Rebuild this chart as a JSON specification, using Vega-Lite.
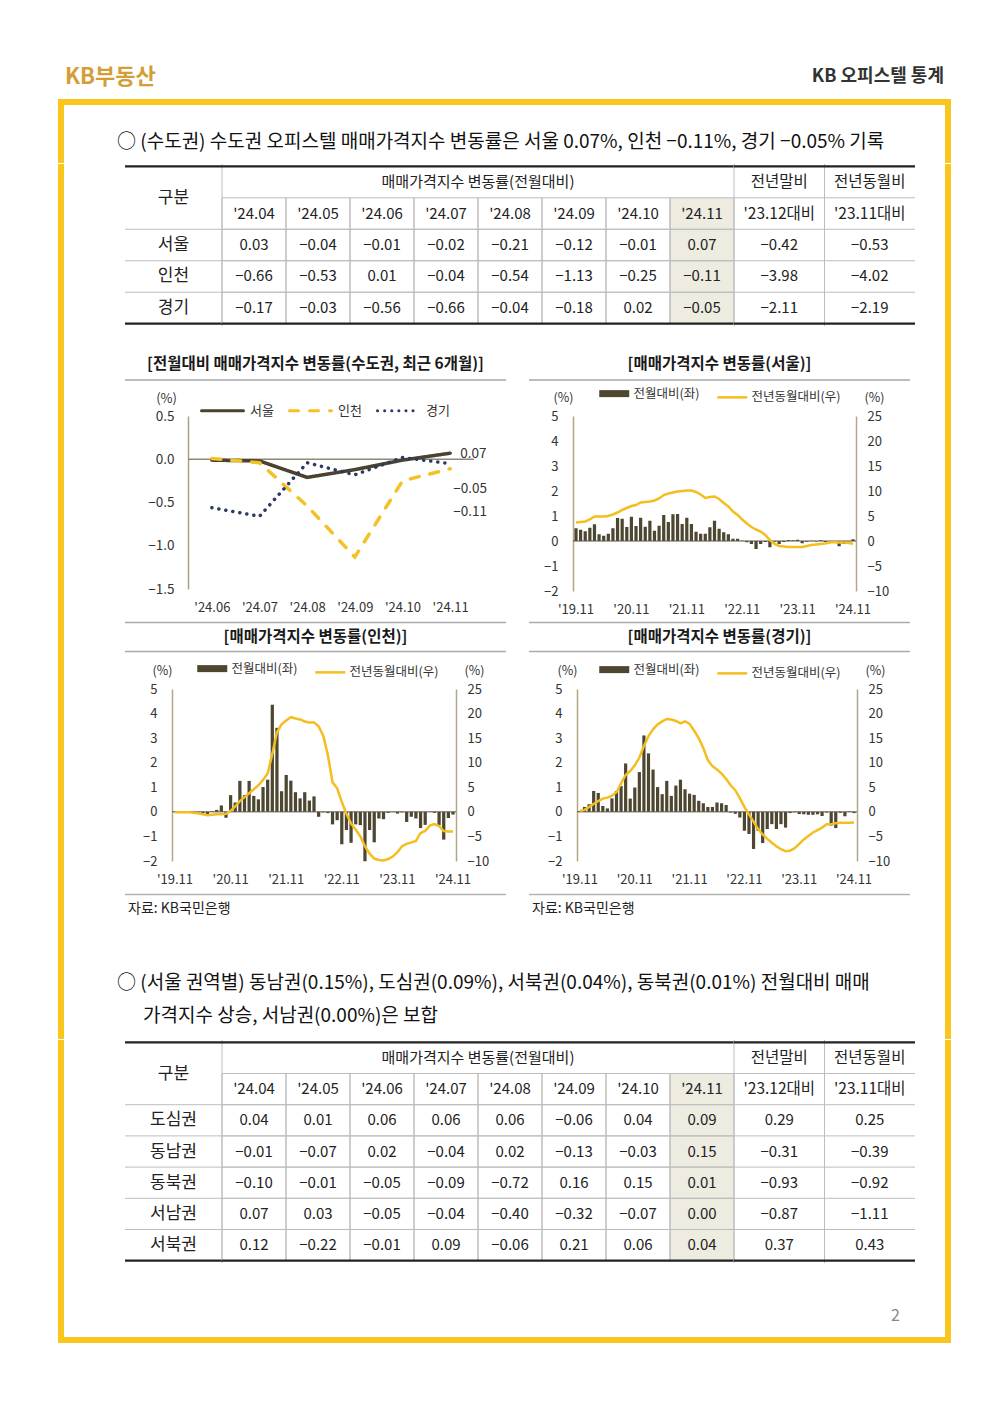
{
"$schema":"https://vega.github.io/schema/vega-lite/v6.json",
"padding":{"left":58,"top":62,"right":0,"bottom":0},
"background":"#ffffff",
"config":{"font":"Noto Sans CJK KR","view":{"stroke":null},"title":{"font":"Noto Sans CJK KR","fontWeight":"normal","color":"#222222"},"axis":{"labelFont":"Noto Sans CJK KR","titleFont":"Noto Sans CJK KR"},"legend":{"labelFont":"Noto Sans CJK KR"}},
"datasets":{
"hdr":[{"key":"brand","label":"KB부동산"},{"key":"report","label":"KB 오피스텔 통계"}],
"rows1":[{"row":"서울"},{"row":"인천"},{"row":"경기"}],
"rows2":[{"row":"도심권"},{"row":"동남권"},{"row":"동북권"},{"row":"서남권"},{"row":"서북권"}],
"hdrM":[{"col":"'24.04","row":"h2"},{"col":"'24.05","row":"h2"},{"col":"'24.06","row":"h2"},{"col":"'24.07","row":"h2"},{"col":"'24.08","row":"h2"},{"col":"'24.09","row":"h2"},{"col":"'24.10","row":"h2"},{"col":"'24.11","row":"h2"}],
"hdrC":[{"col":"전년말비","row":"h1","t":"전년말비"},{"col":"전년동월비","row":"h1","t":"전년동월비"},{"col":"전년말비","row":"h2","t":"'23.12대비"},{"col":"전년동월비","row":"h2","t":"'23.11대비"}],
"t1m":[
{"row":"서울","col":"'24.04","v":0.03},{"row":"서울","col":"'24.05","v":-0.04},{"row":"서울","col":"'24.06","v":-0.01},{"row":"서울","col":"'24.07","v":-0.02},{"row":"서울","col":"'24.08","v":-0.21},{"row":"서울","col":"'24.09","v":-0.12},{"row":"서울","col":"'24.10","v":-0.01},{"row":"서울","col":"'24.11","v":0.07},
{"row":"인천","col":"'24.04","v":-0.66},{"row":"인천","col":"'24.05","v":-0.53},{"row":"인천","col":"'24.06","v":0.01},{"row":"인천","col":"'24.07","v":-0.04},{"row":"인천","col":"'24.08","v":-0.54},{"row":"인천","col":"'24.09","v":-1.13},{"row":"인천","col":"'24.10","v":-0.25},{"row":"인천","col":"'24.11","v":-0.11},
{"row":"경기","col":"'24.04","v":-0.17},{"row":"경기","col":"'24.05","v":-0.03},{"row":"경기","col":"'24.06","v":-0.56},{"row":"경기","col":"'24.07","v":-0.66},{"row":"경기","col":"'24.08","v":-0.04},{"row":"경기","col":"'24.09","v":-0.18},{"row":"경기","col":"'24.10","v":0.02},{"row":"경기","col":"'24.11","v":-0.05}],
"t1c":[{"row":"서울","col":"전년말비","v":-0.42},{"row":"서울","col":"전년동월비","v":-0.53},{"row":"인천","col":"전년말비","v":-3.98},{"row":"인천","col":"전년동월비","v":-4.02},{"row":"경기","col":"전년말비","v":-2.11},{"row":"경기","col":"전년동월비","v":-2.19}],
"t2m":[
{"row":"도심권","col":"'24.04","v":0.04},{"row":"도심권","col":"'24.05","v":0.01},{"row":"도심권","col":"'24.06","v":0.06},{"row":"도심권","col":"'24.07","v":0.06},{"row":"도심권","col":"'24.08","v":0.06},{"row":"도심권","col":"'24.09","v":-0.06},{"row":"도심권","col":"'24.10","v":0.04},{"row":"도심권","col":"'24.11","v":0.09},
{"row":"동남권","col":"'24.04","v":-0.01},{"row":"동남권","col":"'24.05","v":-0.07},{"row":"동남권","col":"'24.06","v":0.02},{"row":"동남권","col":"'24.07","v":-0.04},{"row":"동남권","col":"'24.08","v":0.02},{"row":"동남권","col":"'24.09","v":-0.13},{"row":"동남권","col":"'24.10","v":-0.03},{"row":"동남권","col":"'24.11","v":0.15},
{"row":"동북권","col":"'24.04","v":-0.10},{"row":"동북권","col":"'24.05","v":-0.01},{"row":"동북권","col":"'24.06","v":-0.05},{"row":"동북권","col":"'24.07","v":-0.09},{"row":"동북권","col":"'24.08","v":-0.72},{"row":"동북권","col":"'24.09","v":0.16},{"row":"동북권","col":"'24.10","v":0.15},{"row":"동북권","col":"'24.11","v":0.01},
{"row":"서남권","col":"'24.04","v":0.07},{"row":"서남권","col":"'24.05","v":0.03},{"row":"서남권","col":"'24.06","v":-0.05},{"row":"서남권","col":"'24.07","v":-0.04},{"row":"서남권","col":"'24.08","v":-0.40},{"row":"서남권","col":"'24.09","v":-0.32},{"row":"서남권","col":"'24.10","v":-0.07},{"row":"서남권","col":"'24.11","v":0.00},
{"row":"서북권","col":"'24.04","v":0.12},{"row":"서북권","col":"'24.05","v":-0.22},{"row":"서북권","col":"'24.06","v":-0.01},{"row":"서북권","col":"'24.07","v":0.09},{"row":"서북권","col":"'24.08","v":-0.06},{"row":"서북권","col":"'24.09","v":0.21},{"row":"서북권","col":"'24.10","v":0.06},{"row":"서북권","col":"'24.11","v":0.04}],
"t2c":[{"row":"도심권","col":"전년말비","v":0.29},{"row":"도심권","col":"전년동월비","v":0.25},{"row":"동남권","col":"전년말비","v":-0.31},{"row":"동남권","col":"전년동월비","v":-0.39},{"row":"동북권","col":"전년말비","v":-0.93},{"row":"동북권","col":"전년동월비","v":-0.92},{"row":"서남권","col":"전년말비","v":-0.87},{"row":"서남권","col":"전년동월비","v":-1.11},{"row":"서북권","col":"전년말비","v":0.37},{"row":"서북권","col":"전년동월비","v":0.43}],
"c1":[
{"m":"'24.06","r":"서울","v":-0.01},{"m":"'24.07","r":"서울","v":-0.02},{"m":"'24.08","r":"서울","v":-0.21},{"m":"'24.09","r":"서울","v":-0.12},{"m":"'24.10","r":"서울","v":-0.01},{"m":"'24.11","r":"서울","v":0.07},
{"m":"'24.06","r":"인천","v":0.01},{"m":"'24.07","r":"인천","v":-0.04},{"m":"'24.08","r":"인천","v":-0.54},{"m":"'24.09","r":"인천","v":-1.13},{"m":"'24.10","r":"인천","v":-0.25},{"m":"'24.11","r":"인천","v":-0.11},
{"m":"'24.06","r":"경기","v":-0.56},{"m":"'24.07","r":"경기","v":-0.66},{"m":"'24.08","r":"경기","v":-0.04},{"m":"'24.09","r":"경기","v":-0.18},{"m":"'24.10","r":"경기","v":0.02},{"m":"'24.11","r":"경기","v":-0.05}],
"seoul":[
{"m":"'19.11","mom":0.51,"yoy":3.7},{"m":"'19.12","mom":0.45,"yoy":3.8},{"m":"'20.01","mom":0.39,"yoy":3.9},{"m":"'20.02","mom":0.53,"yoy":4.3},{"m":"'20.03","mom":0.67,"yoy":4.9},{"m":"'20.04","mom":0.27,"yoy":4.9},{"m":"'20.05","mom":0.21,"yoy":4.9},{"m":"'20.06","mom":0.29,"yoy":5.0},{"m":"'20.07","mom":0.51,"yoy":5.3},{"m":"'20.08","mom":0.92,"yoy":5.7},{"m":"'20.09","mom":0.89,"yoy":6.2},{"m":"'20.10","mom":0.56,"yoy":6.6},
{"m":"'20.11","mom":0.97,"yoy":7.0},{"m":"'20.12","mom":0.60,"yoy":7.2},{"m":"'21.01","mom":0.93,"yoy":7.7},{"m":"'21.02","mom":0.57,"yoy":7.8},{"m":"'21.03","mom":0.81,"yoy":7.9},{"m":"'21.04","mom":0.41,"yoy":8.1},{"m":"'21.05","mom":0.61,"yoy":8.5},{"m":"'21.06","mom":1.04,"yoy":9.2},{"m":"'21.07","mom":0.76,"yoy":9.5},{"m":"'21.08","mom":1.07,"yoy":9.7},{"m":"'21.09","mom":1.08,"yoy":9.9},{"m":"'21.10","mom":0.68,"yoy":10.0},
{"m":"'21.11","mom":0.93,"yoy":10.1},{"m":"'21.12","mom":0.68,"yoy":10.1},{"m":"'22.01","mom":0.37,"yoy":9.8},{"m":"'22.02","mom":0.29,"yoy":9.3},{"m":"'22.03","mom":0.29,"yoy":8.6},{"m":"'22.04","mom":0.55,"yoy":8.8},{"m":"'22.05","mom":0.81,"yoy":8.9},{"m":"'22.06","mom":0.49,"yoy":8.4},{"m":"'22.07","mom":0.35,"yoy":7.6},{"m":"'22.08","mom":0.27,"yoy":6.9},{"m":"'22.09","mom":0.09,"yoy":5.9},{"m":"'22.10","mom":0.09,"yoy":5.2},
{"m":"'22.11","mom":0.01,"yoy":4.3},{"m":"'22.12","mom":-0.05,"yoy":3.5},{"m":"'23.01","mom":-0.12,"yoy":2.8},{"m":"'23.02","mom":-0.32,"yoy":2.3},{"m":"'23.03","mom":-0.12,"yoy":1.9},{"m":"'23.04","mom":-0.04,"yoy":1.2},{"m":"'23.05","mom":-0.25,"yoy":0.2},{"m":"'23.06","mom":-0.03,"yoy":-0.6},{"m":"'23.07","mom":-0.12,"yoy":-1.0},{"m":"'23.08","mom":-0.04,"yoy":-1.1},{"m":"'23.09","mom":0.04,"yoy":-1.2},{"m":"'23.10","mom":0.03,"yoy":-1.2},
{"m":"'23.11","mom":0.05,"yoy":-1.2},{"m":"'23.12","mom":-0.09,"yoy":-1.2},{"m":"'24.01","mom":-0.03,"yoy":-1.0},{"m":"'24.02","mom":0.01,"yoy":-0.8},{"m":"'24.03","mom":-0.02,"yoy":-0.7},{"m":"'24.04","mom":0.03,"yoy":-0.6},{"m":"'24.05","mom":-0.04,"yoy":-0.5},{"m":"'24.06","mom":-0.01,"yoy":-0.3},{"m":"'24.07","mom":-0.02,"yoy":-0.2},{"m":"'24.08","mom":-0.21,"yoy":-0.3},{"m":"'24.09","mom":-0.12,"yoy":-0.3},{"m":"'24.10","mom":-0.01,"yoy":-0.4},{"m":"'24.11","mom":0.07,"yoy":-0.53}],
"incheon":[
{"m":"'19.11","mom":0.01,"yoy":-0.1},{"m":"'19.12","mom":0.0,"yoy":-0.1},{"m":"'20.01","mom":0.02,"yoy":-0.1},{"m":"'20.02","mom":0.0,"yoy":-0.1},{"m":"'20.03","mom":-0.02,"yoy":-0.2},{"m":"'20.04","mom":-0.03,"yoy":-0.3},{"m":"'20.05","mom":-0.06,"yoy":-0.5},{"m":"'20.06","mom":-0.12,"yoy":-0.7},{"m":"'20.07","mom":0.02,"yoy":-0.6},{"m":"'20.08","mom":0.08,"yoy":-0.5},{"m":"'20.09","mom":0.26,"yoy":-0.5},{"m":"'20.10","mom":-0.24,"yoy":-0.4},
{"m":"'20.11","mom":0.68,"yoy":0.2},{"m":"'20.12","mom":0.38,"yoy":1.1},{"m":"'21.01","mom":1.26,"yoy":2.2},{"m":"'21.02","mom":0.68,"yoy":3.0},{"m":"'21.03","mom":1.26,"yoy":3.8},{"m":"'21.04","mom":0.65,"yoy":4.6},{"m":"'21.05","mom":0.51,"yoy":5.4},{"m":"'21.06","mom":1.01,"yoy":6.5},{"m":"'21.07","mom":1.31,"yoy":7.8},{"m":"'21.08","mom":4.36,"yoy":11.8},{"m":"'21.09","mom":3.42,"yoy":16.2},{"m":"'21.10","mom":0.84,"yoy":17.8},
{"m":"'21.11","mom":1.5,"yoy":18.6},{"m":"'21.12","mom":1.27,"yoy":19.3},{"m":"'22.01","mom":0.8,"yoy":19.0},{"m":"'22.02","mom":0.55,"yoy":18.8},{"m":"'22.03","mom":0.8,"yoy":18.4},{"m":"'22.04","mom":0.46,"yoy":18.2},{"m":"'22.05","mom":0.63,"yoy":18.2},{"m":"'22.06","mom":-0.2,"yoy":17.4},{"m":"'22.07","mom":-0.02,"yoy":15.5},{"m":"'22.08","mom":-0.05,"yoy":11.5},{"m":"'22.09","mom":-0.51,"yoy":6.0},{"m":"'22.10","mom":-0.34,"yoy":4.8},
{"m":"'22.11","mom":-1.32,"yoy":2.0},{"m":"'22.12","mom":-0.74,"yoy":-0.4},{"m":"'23.01","mom":-1.26,"yoy":-2.4},{"m":"'23.02","mom":-0.51,"yoy":-3.6},{"m":"'23.03","mom":-0.54,"yoy":-5.0},{"m":"'23.04","mom":-2.01,"yoy":-7.0},{"m":"'23.05","mom":-0.74,"yoy":-8.5},{"m":"'23.06","mom":-1.24,"yoy":-9.5},{"m":"'23.07","mom":-0.27,"yoy":-9.8},{"m":"'23.08","mom":-0.3,"yoy":-9.9},{"m":"'23.09","mom":-0.04,"yoy":-9.6},{"m":"'23.10","mom":-0.01,"yoy":-9.1},
{"m":"'23.11","mom":-0.07,"yoy":-8.2},{"m":"'23.12","mom":-0.02,"yoy":-7.0},{"m":"'24.01","mom":-0.41,"yoy":-6.5},{"m":"'24.02","mom":-0.2,"yoy":-6.2},{"m":"'24.03","mom":-0.27,"yoy":-5.9},{"m":"'24.04","mom":-0.66,"yoy":-4.3},{"m":"'24.05","mom":-0.53,"yoy":-3.9},{"m":"'24.06","mom":0.01,"yoy":-2.8},{"m":"'24.07","mom":-0.04,"yoy":-2.5},{"m":"'24.08","mom":-0.54,"yoy":-2.9},{"m":"'24.09","mom":-1.13,"yoy":-3.9},{"m":"'24.10","mom":-0.25,"yoy":-4.0},{"m":"'24.11","mom":-0.11,"yoy":-4.02}],
"gyeonggi":[
{"m":"'19.11","mom":0.03,"yoy":0.2},{"m":"'19.12","mom":0.2,"yoy":0.4},{"m":"'20.01","mom":0.31,"yoy":1.0},{"m":"'20.02","mom":0.85,"yoy":1.6},{"m":"'20.03","mom":0.77,"yoy":2.2},{"m":"'20.04","mom":0.24,"yoy":2.7},{"m":"'20.05","mom":0.14,"yoy":2.9},{"m":"'20.06","mom":0.55,"yoy":3.3},{"m":"'20.07","mom":0.85,"yoy":4.0},{"m":"'20.08","mom":1.05,"yoy":5.8},{"m":"'20.09","mom":1.97,"yoy":7.5},{"m":"'20.10","mom":0.54,"yoy":8.3},
{"m":"'20.11","mom":0.99,"yoy":9.5},{"m":"'20.12","mom":1.62,"yoy":11.0},{"m":"'21.01","mom":3.11,"yoy":13.4},{"m":"'21.02","mom":2.38,"yoy":15.4},{"m":"'21.03","mom":1.72,"yoy":16.8},{"m":"'21.04","mom":1.01,"yoy":17.8},{"m":"'21.05","mom":0.72,"yoy":18.4},{"m":"'21.06","mom":1.26,"yoy":18.9},{"m":"'21.07","mom":0.65,"yoy":18.8},{"m":"'21.08","mom":1.07,"yoy":18.5},{"m":"'21.09","mom":1.31,"yoy":18.0},{"m":"'21.10","mom":0.92,"yoy":18.4},
{"m":"'21.11","mom":0.74,"yoy":17.9},{"m":"'21.12","mom":0.69,"yoy":16.5},{"m":"'22.01","mom":0.45,"yoy":15.0},{"m":"'22.02","mom":0.35,"yoy":13.0},{"m":"'22.03","mom":0.2,"yoy":10.5},{"m":"'22.04","mom":0.2,"yoy":9.3},{"m":"'22.05","mom":0.38,"yoy":8.6},{"m":"'22.06","mom":0.35,"yoy":7.8},{"m":"'22.07","mom":0.28,"yoy":6.7},{"m":"'22.08","mom":-0.03,"yoy":5.4},{"m":"'22.09","mom":-0.08,"yoy":4.4},{"m":"'22.10","mom":-0.23,"yoy":2.8},
{"m":"'22.11","mom":-0.77,"yoy":1.0},{"m":"'22.12","mom":-0.9,"yoy":-0.5},{"m":"'23.01","mom":-1.51,"yoy":-2.0},{"m":"'23.02","mom":-0.77,"yoy":-3.5},{"m":"'23.03","mom":-1.27,"yoy":-4.6},{"m":"'23.04","mom":-0.7,"yoy":-5.5},{"m":"'23.05","mom":-0.5,"yoy":-6.3},{"m":"'23.06","mom":-0.7,"yoy":-7.0},{"m":"'23.07","mom":-0.5,"yoy":-7.6},{"m":"'23.08","mom":-0.64,"yoy":-8.0},{"m":"'23.09","mom":-0.05,"yoy":-7.9},{"m":"'23.10","mom":-0.02,"yoy":-7.4},
{"m":"'23.11","mom":-0.09,"yoy":-6.5},{"m":"'23.12","mom":-0.1,"yoy":-5.6},{"m":"'24.01","mom":-0.12,"yoy":-4.9},{"m":"'24.02","mom":-0.12,"yoy":-4.2},{"m":"'24.03","mom":-0.1,"yoy":-3.7},{"m":"'24.04","mom":-0.17,"yoy":-3.2},{"m":"'24.05","mom":-0.03,"yoy":-2.5},{"m":"'24.06","mom":-0.56,"yoy":-2.5},{"m":"'24.07","mom":-0.66,"yoy":-2.3},{"m":"'24.08","mom":-0.04,"yoy":-2.2},{"m":"'24.09","mom":-0.18,"yoy":-2.2},{"m":"'24.10","mom":0.02,"yoy":-2.2},{"m":"'24.11","mom":-0.05,"yoy":-2.19}]
},
"spacing":0,
"resolve":{"scale":{"color":"independent","strokeDash":"independent"},"legend":{"color":"independent","strokeDash":"independent"}},
"vconcat":[
{"width":893,"height":30,"data":{"name":"hdr"},"layer":[
 {"transform":[{"filter":"datum.key === 'brand'"}],"mark":{"type":"text","align":"left","fontSize":22,"fontWeight":"bold","color":"#D39E35"},"encoding":{"x":{"field":"key","type":"nominal","scale":{"type":"point","domain":["brand","report"],"padding":0.008},"axis":null},"text":{"field":"label"}}},
 {"transform":[{"filter":"datum.key === 'report'"}],"mark":{"type":"text","align":"right","fontSize":18,"fontWeight":"bold","color":"#333333"},"encoding":{"x":{"field":"key","type":"nominal","scale":{"type":"point","domain":["brand","report"],"padding":0.008},"axis":null},"text":{"field":"label"}}}
]},
{"width":1,"height":7,"data":{"values":[{}]},"mark":{"type":"text","text":"","fontSize":0}},
{"width":893,"height":6,"view":{"fill":"#F8C61C","stroke":null},"data":{"values":[{}]},"mark":{"type":"text","text":"","fontSize":0}},

{"bounds":"flush","spacing":0,"hconcat":[
 {"width":6,"height":58,"view":{"fill":"#F8C61C","stroke":null},"data":{"values":[{}]},"mark":{"type":"text","text":"","fontSize":0}},
 {"width":61,"height":1,"data":{"values":[{}]},"mark":{"type":"text","text":"","fontSize":0}},
 {"width":790,"height":58,"data":{"values":[{}]},"mark":{"type":"text","text":"","fontSize":0},"title":{"text":"○ (수도권) 수도권 오피스텔 매매가격지수 변동률은 서울 0.07%, 인천 −0.11%, 경기 −0.05% 기록","anchor":"start","frame":"group","fontSize":19,"fontWeight":"normal","color":"#111111","offset":-47,"dx":-8}},
 {"width":30,"height":1,"data":{"values":[{}]},"mark":{"type":"text","text":"","fontSize":0}},
 {"width":6,"height":58,"view":{"fill":"#F8C61C","stroke":null},"data":{"values":[{}]},"mark":{"type":"text","text":"","fontSize":0}}
]},

{"bounds":"flush","spacing":0,"hconcat":[
 {"width":6,"height":187,"view":{"fill":"#F8C61C","stroke":null},"data":{"values":[{}]},"mark":{"type":"text","text":"","fontSize":0}},
 {"width":61,"height":1,"data":{"values":[{}]},"mark":{"type":"text","text":"","fontSize":0}},
 {"width":97,"height":162,"layer":[
  {"data":{"name":"rows1"},"mark":{"type":"rule","color":"#BDBDBD","strokeWidth":1},"encoding":{"y":{"field":"row","type":"nominal","bandPosition":0,"scale":{"type":"band","domain":["h1","h2","서울","인천","경기"],"paddingInner":0,"paddingOuter":0.0726},"axis":null}}},
  {"data":{"values":[{}]},"mark":{"type":"rule","color":"#BDBDBD","strokeWidth":1},"encoding":{"x":{"value":"width"}}},
  {"data":{"values":[{"row":"h2","label":"구분"}]},"mark":{"type":"text","fontSize":17,"color":"#222222"},"encoding":{"y":{"field":"row","type":"nominal","bandPosition":0,"scale":{"type":"band","domain":["h1","h2","서울","인천","경기"],"paddingInner":0,"paddingOuter":0.0726},"axis":null},"text":{"field":"label"}}},
  {"data":{"name":"rows1"},"mark":{"type":"text","fontSize":17,"color":"#222222"},"encoding":{"y":{"field":"row","type":"nominal","scale":{"type":"band","domain":["h1","h2","서울","인천","경기"],"paddingInner":0,"paddingOuter":0.0726},"axis":null},"text":{"field":"row"}}},
  {"data":{"values":[{"row":"h1"}]},"mark":{"type":"rule","color":"#222222","strokeWidth":2.2},"encoding":{"y":{"field":"row","type":"nominal","bandPosition":0,"scale":{"type":"band","domain":["h1","h2","서울","인천","경기"],"paddingInner":0,"paddingOuter":0.0726},"axis":null}}},
  {"data":{"values":[{"row":"경기"}]},"mark":{"type":"rule","color":"#222222","strokeWidth":2.2},"encoding":{"y":{"field":"row","type":"nominal","bandPosition":1,"scale":{"type":"band","domain":["h1","h2","서울","인천","경기"],"paddingInner":0,"paddingOuter":0.0726},"axis":null}}}
 ]},
 {"width":512,"height":162,"layer":[
  {"data":{"name":"t1m"},"transform":[{"filter":"datum.col === \"'24.11\""}],"mark":{"type":"rect","color":"#EEEBE1"},"encoding":{"x":{"field":"col","type":"nominal","scale":{"type":"band","domain":["'24.04","'24.05","'24.06","'24.07","'24.08","'24.09","'24.10","'24.11"],"paddingInner":0,"paddingOuter":0},"axis":null},"y":{"field":"row","type":"nominal","scale":{"type":"band","domain":["h1","h2","서울","인천","경기"],"paddingInner":0,"paddingOuter":0.0726},"axis":null}}},
  {"data":{"name":"hdrM"},"transform":[{"filter":"datum.col === \"'24.11\""}],"mark":{"type":"rect","color":"#EEEBE1"},"encoding":{"x":{"field":"col","type":"nominal","scale":{"type":"band","domain":["'24.04","'24.05","'24.06","'24.07","'24.08","'24.09","'24.10","'24.11"],"paddingInner":0,"paddingOuter":0},"axis":null},"y":{"field":"row","type":"nominal","scale":{"type":"band","domain":["h1","h2","서울","인천","경기"],"paddingInner":0,"paddingOuter":0.0726},"axis":null}}},
  {"data":{"name":"t1m"},"mark":{"type":"rect","filled":false,"color":"#BDBDBD","strokeWidth":1},"encoding":{"x":{"field":"col","type":"nominal","scale":{"type":"band","domain":["'24.04","'24.05","'24.06","'24.07","'24.08","'24.09","'24.10","'24.11"],"paddingInner":0,"paddingOuter":0},"axis":null},"y":{"field":"row","type":"nominal","scale":{"type":"band","domain":["h1","h2","서울","인천","경기"],"paddingInner":0,"paddingOuter":0.0726},"axis":null}}},
  {"data":{"name":"hdrM"},"mark":{"type":"rect","filled":false,"color":"#BDBDBD","strokeWidth":1},"encoding":{"x":{"field":"col","type":"nominal","scale":{"type":"band","domain":["'24.04","'24.05","'24.06","'24.07","'24.08","'24.09","'24.10","'24.11"],"paddingInner":0,"paddingOuter":0},"axis":null},"y":{"field":"row","type":"nominal","scale":{"type":"band","domain":["h1","h2","서울","인천","경기"],"paddingInner":0,"paddingOuter":0.0726},"axis":null}}},
  {"data":{"values":[{"row":"h1","label":"매매가격지수 변동률(전월대비)"}]},"mark":{"type":"text","fontSize":15,"color":"#222222"},"encoding":{"y":{"field":"row","type":"nominal","scale":{"type":"band","domain":["h1","h2","서울","인천","경기"],"paddingInner":0,"paddingOuter":0.0726},"axis":null},"text":{"field":"label"}}},
  {"data":{"name":"hdrM"},"mark":{"type":"text","fontSize":15,"color":"#222222"},"encoding":{"x":{"field":"col","type":"nominal","scale":{"type":"band","domain":["'24.04","'24.05","'24.06","'24.07","'24.08","'24.09","'24.10","'24.11"],"paddingInner":0,"paddingOuter":0},"axis":null},"y":{"field":"row","type":"nominal","scale":{"type":"band","domain":["h1","h2","서울","인천","경기"],"paddingInner":0,"paddingOuter":0.0726},"axis":null},"text":{"field":"col"}}},
  {"data":{"name":"t1m"},"mark":{"type":"text","fontSize":15,"color":"#222222"},"encoding":{"x":{"field":"col","type":"nominal","scale":{"type":"band","domain":["'24.04","'24.05","'24.06","'24.07","'24.08","'24.09","'24.10","'24.11"],"paddingInner":0,"paddingOuter":0},"axis":null},"y":{"field":"row","type":"nominal","scale":{"type":"band","domain":["h1","h2","서울","인천","경기"],"paddingInner":0,"paddingOuter":0.0726},"axis":null},"text":{"field":"v","type":"quantitative","format":".2f"}}},
  {"data":{"values":[{"row":"h1"}]},"mark":{"type":"rule","color":"#222222","strokeWidth":2.2},"encoding":{"y":{"field":"row","type":"nominal","bandPosition":0,"scale":{"type":"band","domain":["h1","h2","서울","인천","경기"],"paddingInner":0,"paddingOuter":0.0726},"axis":null}}},
  {"data":{"values":[{"row":"경기"}]},"mark":{"type":"rule","color":"#222222","strokeWidth":2.2},"encoding":{"y":{"field":"row","type":"nominal","bandPosition":1,"scale":{"type":"band","domain":["h1","h2","서울","인천","경기"],"paddingInner":0,"paddingOuter":0.0726},"axis":null}}}
 ]},
 {"width":181,"height":162,"layer":[
  {"data":{"values":[{"col":"전년말비"},{"col":"전년동월비"}]},"mark":{"type":"rule","color":"#BDBDBD","strokeWidth":1},"encoding":{"x":{"field":"col","type":"nominal","bandPosition":0,"scale":{"type":"band","domain":["전년말비","전년동월비"],"paddingInner":0,"paddingOuter":0},"axis":null}}},
  {"data":{"values":[{"row":"h2"},{"row":"서울"},{"row":"인천"},{"row":"경기"}]},"mark":{"type":"rule","color":"#BDBDBD","strokeWidth":1},"encoding":{"y":{"field":"row","type":"nominal","bandPosition":0,"scale":{"type":"band","domain":["h1","h2","서울","인천","경기"],"paddingInner":0,"paddingOuter":0.0726},"axis":null}}},
  {"data":{"name":"hdrC"},"mark":{"type":"text","fontSize":15.5,"color":"#222222"},"encoding":{"x":{"field":"col","type":"nominal","scale":{"type":"band","domain":["전년말비","전년동월비"],"paddingInner":0,"paddingOuter":0},"axis":null},"y":{"field":"row","type":"nominal","scale":{"type":"band","domain":["h1","h2","서울","인천","경기"],"paddingInner":0,"paddingOuter":0.0726},"axis":null},"text":{"field":"t"}}},
  {"data":{"name":"t1c"},"mark":{"type":"text","fontSize":15,"color":"#222222"},"encoding":{"x":{"field":"col","type":"nominal","scale":{"type":"band","domain":["전년말비","전년동월비"],"paddingInner":0,"paddingOuter":0},"axis":null},"y":{"field":"row","type":"nominal","scale":{"type":"band","domain":["h1","h2","서울","인천","경기"],"paddingInner":0,"paddingOuter":0.0726},"axis":null},"text":{"field":"v","type":"quantitative","format":".2f"}}},
  {"data":{"values":[{"row":"h1"}]},"mark":{"type":"rule","color":"#222222","strokeWidth":2.2},"encoding":{"y":{"field":"row","type":"nominal","bandPosition":0,"scale":{"type":"band","domain":["h1","h2","서울","인천","경기"],"paddingInner":0,"paddingOuter":0.0726},"axis":null}}},
  {"data":{"values":[{"row":"경기"}]},"mark":{"type":"rule","color":"#222222","strokeWidth":2.2},"encoding":{"y":{"field":"row","type":"nominal","bandPosition":1,"scale":{"type":"band","domain":["h1","h2","서울","인천","경기"],"paddingInner":0,"paddingOuter":0.0726},"axis":null}}}
 ]},
 {"width":30,"height":1,"data":{"values":[{}]},"mark":{"type":"text","text":"","fontSize":0}},
 {"width":6,"height":187,"view":{"fill":"#F8C61C","stroke":null},"data":{"values":[{}]},"mark":{"type":"text","text":"","fontSize":0}}
]},

{"bounds":"flush","spacing":0,"hconcat":[
 {"width":6,"height":31,"view":{"fill":"#F8C61C","stroke":null},"data":{"values":[{}]},"mark":{"type":"text","text":"","fontSize":0}},
 {"width":61,"height":1,"data":{"values":[{}]},"mark":{"type":"text","text":"","fontSize":0}},
 {"width":381,"height":29,"data":{"values":[{"label":"[전월대비 매매가격지수 변동률(수도권, 최근 6개월)]"}]},"layer":[
  {"mark":{"type":"text","fontSize":15.5,"fontWeight":"bold","color":"#1A1A1A","dy":-2},"encoding":{"text":{"field":"label"}}},
  {"mark":{"type":"rule","color":"#A6A6A6","strokeWidth":1.5},"encoding":{"y":{"value":"height"}}}
 ]},
 {"width":23,"height":1,"data":{"values":[{}]},"mark":{"type":"text","text":"","fontSize":0}},
 {"width":381,"height":29,"data":{"values":[{"label":"[매매가격지수 변동률(서울)]"}]},"layer":[
  {"mark":{"type":"text","fontSize":15.5,"fontWeight":"bold","color":"#1A1A1A","dy":-2},"encoding":{"text":{"field":"label"}}},
  {"mark":{"type":"rule","color":"#A6A6A6","strokeWidth":1.5},"encoding":{"y":{"value":"height"}}}
 ]},
 {"width":35,"height":1,"data":{"values":[{}]},"mark":{"type":"text","text":"","fontSize":0}},
 {"width":6,"height":31,"view":{"fill":"#F8C61C","stroke":null},"data":{"values":[{}]},"mark":{"type":"text","text":"","fontSize":0}}
]},

{"bounds":"flush","spacing":0,"columns":7,"resolve":{"scale":{"color":"independent","strokeDash":"independent"},"legend":{"color":"independent","strokeDash":"independent"}},"concat":[
 {"width":6,"height":34,"view":{"fill":"#F8C61C","stroke":null},"data":{"values":[{}]},"mark":{"type":"text","text":"","fontSize":0}},
 {"width":124,"height":1,"data":{"values":[{}]},"mark":{"type":"text","text":"","fontSize":0}},
 {"width":286,"height":1,"data":{"values":[{}]},"mark":{"type":"text","text":"","fontSize":0}},
 {"width":99,"height":1,"data":{"values":[{}]},"mark":{"type":"text","text":"","fontSize":0}},
 {"width":283,"height":1,"data":{"values":[{}]},"mark":{"type":"text","text":"","fontSize":0}},
 {"width":89,"height":1,"data":{"values":[{}]},"mark":{"type":"text","text":"","fontSize":0}},
 {"width":6,"height":34,"view":{"fill":"#F8C61C","stroke":null},"data":{"values":[{}]},"mark":{"type":"text","text":"","fontSize":0}},
 {"width":6,"height":205,"view":{"fill":"#F8C61C","stroke":null},"data":{"values":[{}]},"mark":{"type":"text","text":"","fontSize":0}},
 {"width":124,"height":1,"data":{"values":[{}]},"mark":{"type":"text","text":"","fontSize":0}},
 {"width":286,"height":173,"layer":[
  {"data":{"values":[{}]},"mark":{"type":"rule","color":"#8F8876","strokeWidth":1.3},"encoding":{"y":{"datum":0,"type":"quantitative"}}},
  {"data":{"name":"c1"},"mark":{"type":"line","strokeWidth":3.5,"strokeCap":"round"},"encoding":{
   "x":{"field":"m","type":"ordinal","sort":null,"scale":{"type":"point","padding":0.5},"axis":{"title":null,"domain":false,"ticks":false,"labelPadding":12,"labelFontSize":13,"labelColor":"#333333","labelAngle":0}},
   "y":{"field":"v","type":"quantitative","scale":{"domain":[-1.5,0.5],"nice":false,"zero":false},"axis":{"values":[-1.5,-1,-0.5,0,0.5],"format":".1f","grid":false,"ticks":false,"labelOverlap":false,"domainColor":"#A9A07C","domainWidth":1.5,"labelPadding":14,"labelFontSize":13.5,"labelColor":"#333333","title":"(%)","titleAngle":0,"titleX":-22,"titleY":-11,"titleAlign":"center","titleBaseline":"bottom","titleFontWeight":"normal","titleFontSize":13,"titleColor":"#333333"}},
   "color":{"field":"r","type":"nominal","scale":{"domain":["서울","인천","경기"],"range":["#4B4330","#F4C224","#2A3B5E"]},"legend":{"title":null,"orient":"none","legendX":12,"legendY":-28,"direction":"horizontal","symbolType":"stroke","symbolSize":1764,"symbolStrokeWidth":3,"labelFontSize":13,"labelColor":"#333333","columnPadding":9,"labelOffset":5,"encode":{"symbols":{"update":{"strokeCap":{"value":"round"}}}}}},
   "strokeDash":{"field":"r","type":"nominal","scale":{"domain":["서울","인천","경기"],"range":[[1,0],[9,11],[0.1,7]]},"legend":{"title":null,"orient":"none","legendX":12,"legendY":-28,"direction":"horizontal","symbolType":"stroke","symbolSize":1764,"symbolStrokeWidth":3,"labelFontSize":13,"labelColor":"#333333","columnPadding":9,"labelOffset":5,"encode":{"symbols":{"update":{"strokeCap":{"value":"round"}}}}}}
  }},
  {"data":{"name":"c1"},"transform":[{"filter":"datum.m === \"'24.11\" && datum.r === '서울'"}],"mark":{"type":"text","align":"left","dx":10,"dy":1,"fontSize":13.5,"color":"#333333"},"encoding":{"x":{"field":"m","type":"ordinal","sort":null},"y":{"field":"v","type":"quantitative"},"text":{"field":"v","type":"quantitative","format":".2f"}}},
  {"data":{"name":"c1"},"transform":[{"filter":"datum.m === \"'24.11\" && datum.r === '경기'"}],"mark":{"type":"text","align":"left","dx":3,"dy":25,"fontSize":13.5,"color":"#333333"},"encoding":{"x":{"field":"m","type":"ordinal","sort":null},"y":{"field":"v","type":"quantitative"},"text":{"field":"v","type":"quantitative","format":".2f"}}},
  {"data":{"name":"c1"},"transform":[{"filter":"datum.m === \"'24.11\" && datum.r === '인천'"}],"mark":{"type":"text","align":"left","dx":3,"dy":43,"fontSize":13.5,"color":"#333333"},"encoding":{"x":{"field":"m","type":"ordinal","sort":null},"y":{"field":"v","type":"quantitative"},"text":{"field":"v","type":"quantitative","format":".2f"}}}
 ]},
 {"width":99,"height":1,"data":{"values":[{}]},"mark":{"type":"text","text":"","fontSize":0}},
 {"width":283,"height":175,"data":{"name":"seoul"},"layer":[
  {"layer":[
   {"mark":{"type":"bar","color":"#4D4631"},"encoding":{
    "x":{"field":"m","type":"ordinal","sort":null,"scale":{"type":"band","paddingInner":0.3,"paddingOuter":0.3},"axis":{"values":["'19.11","'20.11","'21.11","'22.11","'23.11","'24.11"],"title":null,"domain":false,"ticks":false,"labelPadding":12,"labelFontSize":13,"labelColor":"#333333","labelAngle":0}},
    "y":{"field":"mom","type":"quantitative","scale":{"domain":[-2,5],"nice":false,"zero":false},"axis":{"orient":"left","values":[-2,-1,0,1,2,3,4,5],"format":"d","grid":false,"ticks":false,"labelOverlap":false,"domainColor":"#B2A983","domainWidth":1.5,"labelPadding":15,"labelFontSize":13,"labelColor":"#333333","title":"(%)","titleAngle":0,"titleX":-10,"titleY":-12,"titleAlign":"center","titleBaseline":"bottom","titleFontWeight":"normal","titleFontSize":12.5,"titleColor":"#333333"}},
    "color":{"datum":"전월대비(좌)","type":"nominal","scale":{"domain":["전월대비(좌)","전년동월대비(우)"],"range":["#4D4631","#F4BE1F"]},"legend":{"title":null,"orient":"none","legendX":35,"legendY":-29,"direction":"horizontal","symbolType":"stroke","symbolSize":900,"labelFontSize":12.5,"labelColor":"#333333","columnPadding":12,"labelOffset":13,"encode":{"symbols":{"update":{"stroke":{"signal":"datum.value === '전월대비(좌)' ? '#4D4631' : '#F4BE1F'"},"strokeWidth":{"signal":"datum.value === '전월대비(좌)' ? 7 : 2.5"},"fill":{"value":"transparent"},"opacity":{"value":1}}}}}}
   }},
   {"data":{"values":[{}]},"mark":{"type":"rule","color":"#5A5545","strokeWidth":1},"encoding":{"y":{"datum":0,"type":"quantitative","scale":{"domain":[-2,5],"nice":false,"zero":false},"axis":{"orient":"left","values":[-2,-1,0,1,2,3,4,5],"format":"d","grid":false,"ticks":false,"labelOverlap":false,"domainColor":"#B2A983","domainWidth":1.5,"labelPadding":15,"labelFontSize":13,"labelColor":"#333333","title":"(%)","titleAngle":0,"titleX":-10,"titleY":-12,"titleAlign":"center","titleBaseline":"bottom","titleFontWeight":"normal","titleFontSize":12.5,"titleColor":"#333333"}}}}
  ]},
  {"mark":{"type":"line","strokeWidth":2.5},"encoding":{
   "x":{"field":"m","type":"ordinal","sort":null},
   "y":{"field":"yoy","type":"quantitative","scale":{"domain":[-10,25],"nice":false,"zero":false},"axis":{"orient":"right","values":[-10,-5,0,5,10,15,20,25],"format":"d","grid":false,"ticks":false,"labelOverlap":false,"domainColor":"#B2A983","domainWidth":1.5,"labelPadding":11,"labelFontSize":13,"labelColor":"#333333","title":"(%)","titleAngle":0,"titleX":18,"titleY":-12,"titleAlign":"center","titleBaseline":"bottom","titleFontWeight":"normal","titleFontSize":12.5,"titleColor":"#333333"}},
   "color":{"datum":"전년동월대비(우)","type":"nominal"}
  }}
 ],"resolve":{"scale":{"y":"independent"}}},
 {"width":89,"height":1,"data":{"values":[{}]},"mark":{"type":"text","text":"","fontSize":0}},
 {"width":6,"height":205,"view":{"fill":"#F8C61C","stroke":null},"data":{"values":[{}]},"mark":{"type":"text","text":"","fontSize":0}}
]},

{"bounds":"flush","spacing":0,"hconcat":[
 {"width":6,"height":32,"view":{"fill":"#F8C61C","stroke":null},"data":{"values":[{}]},"mark":{"type":"text","text":"","fontSize":0}},
 {"width":61,"height":1,"data":{"values":[{}]},"mark":{"type":"text","text":"","fontSize":0}},
 {"width":381,"height":32,"layer":[
  {"data":{"values":[{"label":"[매매가격지수 변동률(인천)]"}]},"mark":{"type":"text","fontSize":15.5,"fontWeight":"bold","color":"#1A1A1A"},"encoding":{"text":{"field":"label"}}},
  {"data":{"values":[{"edge":"top"},{"edge":"bottom"}]},"mark":{"type":"rule","color":"#ABABAB","strokeWidth":1.5},"encoding":{"y":{"field":"edge","type":"nominal","scale":{"type":"point","domain":["top","bottom"],"padding":0.055},"axis":null}}}
 ]},
 {"width":23,"height":1,"data":{"values":[{}]},"mark":{"type":"text","text":"","fontSize":0}},
 {"width":381,"height":32,"layer":[
  {"data":{"values":[{"label":"[매매가격지수 변동률(경기)]"}]},"mark":{"type":"text","fontSize":15.5,"fontWeight":"bold","color":"#1A1A1A"},"encoding":{"text":{"field":"label"}}},
  {"data":{"values":[{"edge":"top"},{"edge":"bottom"}]},"mark":{"type":"rule","color":"#ABABAB","strokeWidth":1.5},"encoding":{"y":{"field":"edge","type":"nominal","scale":{"type":"point","domain":["top","bottom"],"padding":0.055},"axis":null}}}
 ]},
 {"width":35,"height":1,"data":{"values":[{}]},"mark":{"type":"text","text":"","fontSize":0}},
 {"width":6,"height":32,"view":{"fill":"#F8C61C","stroke":null},"data":{"values":[{}]},"mark":{"type":"text","text":"","fontSize":0}}
]},

{"bounds":"flush","spacing":0,"columns":7,"resolve":{"scale":{"color":"independent","strokeDash":"independent"},"legend":{"color":"independent","strokeDash":"independent"}},"concat":[
 {"width":6,"height":36,"view":{"fill":"#F8C61C","stroke":null},"data":{"values":[{}]},"mark":{"type":"text","text":"","fontSize":0}},
 {"width":108,"height":1,"data":{"values":[{}]},"mark":{"type":"text","text":"","fontSize":0}},
 {"width":284,"height":1,"data":{"values":[{}]},"mark":{"type":"text","text":"","fontSize":0}},
 {"width":121,"height":1,"data":{"values":[{}]},"mark":{"type":"text","text":"","fontSize":0}},
 {"width":280,"height":1,"data":{"values":[{}]},"mark":{"type":"text","text":"","fontSize":0}},
 {"width":88,"height":1,"data":{"values":[{}]},"mark":{"type":"text","text":"","fontSize":0}},
 {"width":6,"height":36,"view":{"fill":"#F8C61C","stroke":null},"data":{"values":[{}]},"mark":{"type":"text","text":"","fontSize":0}},
 {"width":6,"height":204,"view":{"fill":"#F8C61C","stroke":null},"data":{"values":[{}]},"mark":{"type":"text","text":"","fontSize":0}},
 {"width":108,"height":1,"data":{"values":[{}]},"mark":{"type":"text","text":"","fontSize":0}},
 {"width":284,"height":172,"data":{"name":"incheon"},"layer":[
  {"layer":[
   {"mark":{"type":"bar","color":"#4D4631"},"encoding":{
    "x":{"field":"m","type":"ordinal","sort":null,"scale":{"type":"band","paddingInner":0.3,"paddingOuter":0.3},"axis":{"values":["'19.11","'20.11","'21.11","'22.11","'23.11","'24.11"],"title":null,"domain":false,"ticks":false,"labelPadding":12,"labelFontSize":13,"labelColor":"#333333","labelAngle":0}},
    "y":{"field":"mom","type":"quantitative","scale":{"domain":[-2,5],"nice":false,"zero":false},"axis":{"orient":"left","values":[-2,-1,0,1,2,3,4,5],"format":"d","grid":false,"ticks":false,"labelOverlap":false,"domainColor":"#B2A983","domainWidth":1.5,"labelPadding":15,"labelFontSize":13,"labelColor":"#333333","title":"(%)","titleAngle":0,"titleX":-10,"titleY":-12,"titleAlign":"center","titleBaseline":"bottom","titleFontWeight":"normal","titleFontSize":12.5,"titleColor":"#333333"}},
    "color":{"datum":"전월대비(좌)","type":"nominal","scale":{"domain":["전월대비(좌)","전년동월대비(우)"],"range":["#4D4631","#F4BE1F"]},"legend":{"title":null,"orient":"none","legendX":34,"legendY":-27,"direction":"horizontal","symbolType":"stroke","symbolSize":900,"labelFontSize":12.5,"labelColor":"#333333","columnPadding":12,"labelOffset":13,"encode":{"symbols":{"update":{"stroke":{"signal":"datum.value === '전월대비(좌)' ? '#4D4631' : '#F4BE1F'"},"strokeWidth":{"signal":"datum.value === '전월대비(좌)' ? 7 : 2.5"},"fill":{"value":"transparent"},"opacity":{"value":1}}}}}}
   }},
   {"data":{"values":[{}]},"mark":{"type":"rule","color":"#5A5545","strokeWidth":1},"encoding":{"y":{"datum":0,"type":"quantitative","scale":{"domain":[-2,5],"nice":false,"zero":false},"axis":{"orient":"left","values":[-2,-1,0,1,2,3,4,5],"format":"d","grid":false,"ticks":false,"labelOverlap":false,"domainColor":"#B2A983","domainWidth":1.5,"labelPadding":15,"labelFontSize":13,"labelColor":"#333333","title":"(%)","titleAngle":0,"titleX":-10,"titleY":-12,"titleAlign":"center","titleBaseline":"bottom","titleFontWeight":"normal","titleFontSize":12.5,"titleColor":"#333333"}}}}
  ]},
  {"mark":{"type":"line","strokeWidth":2.5},"encoding":{
   "x":{"field":"m","type":"ordinal","sort":null},
   "y":{"field":"yoy","type":"quantitative","scale":{"domain":[-10,25],"nice":false,"zero":false},"axis":{"orient":"right","values":[-10,-5,0,5,10,15,20,25],"format":"d","grid":false,"ticks":false,"labelOverlap":false,"domainColor":"#B2A983","domainWidth":1.5,"labelPadding":11,"labelFontSize":13,"labelColor":"#333333","title":"(%)","titleAngle":0,"titleX":18,"titleY":-12,"titleAlign":"center","titleBaseline":"bottom","titleFontWeight":"normal","titleFontSize":12.5,"titleColor":"#333333"}},
   "color":{"datum":"전년동월대비(우)","type":"nominal"}
  }}
 ],"resolve":{"scale":{"y":"independent"}}},
 {"width":121,"height":1,"data":{"values":[{}]},"mark":{"type":"text","text":"","fontSize":0}},
 {"width":280,"height":172,"data":{"name":"gyeonggi"},"layer":[
  {"layer":[
   {"mark":{"type":"bar","color":"#4D4631"},"encoding":{
    "x":{"field":"m","type":"ordinal","sort":null,"scale":{"type":"band","paddingInner":0.3,"paddingOuter":0.3},"axis":{"values":["'19.11","'20.11","'21.11","'22.11","'23.11","'24.11"],"title":null,"domain":false,"ticks":false,"labelPadding":12,"labelFontSize":13,"labelColor":"#333333","labelAngle":0}},
    "y":{"field":"mom","type":"quantitative","scale":{"domain":[-2,5],"nice":false,"zero":false},"axis":{"orient":"left","values":[-2,-1,0,1,2,3,4,5],"format":"d","grid":false,"ticks":false,"labelOverlap":false,"domainColor":"#B2A983","domainWidth":1.5,"labelPadding":15,"labelFontSize":13,"labelColor":"#333333","title":"(%)","titleAngle":0,"titleX":-10,"titleY":-12,"titleAlign":"center","titleBaseline":"bottom","titleFontWeight":"normal","titleFontSize":12.5,"titleColor":"#333333"}},
    "color":{"datum":"전월대비(좌)","type":"nominal","scale":{"domain":["전월대비(좌)","전년동월대비(우)"],"range":["#4D4631","#F4BE1F"]},"legend":{"title":null,"orient":"none","legendX":31,"legendY":-26,"direction":"horizontal","symbolType":"stroke","symbolSize":900,"labelFontSize":12.5,"labelColor":"#333333","columnPadding":12,"labelOffset":13,"encode":{"symbols":{"update":{"stroke":{"signal":"datum.value === '전월대비(좌)' ? '#4D4631' : '#F4BE1F'"},"strokeWidth":{"signal":"datum.value === '전월대비(좌)' ? 7 : 2.5"},"fill":{"value":"transparent"},"opacity":{"value":1}}}}}}
   }},
   {"data":{"values":[{}]},"mark":{"type":"rule","color":"#5A5545","strokeWidth":1},"encoding":{"y":{"datum":0,"type":"quantitative","scale":{"domain":[-2,5],"nice":false,"zero":false},"axis":{"orient":"left","values":[-2,-1,0,1,2,3,4,5],"format":"d","grid":false,"ticks":false,"labelOverlap":false,"domainColor":"#B2A983","domainWidth":1.5,"labelPadding":15,"labelFontSize":13,"labelColor":"#333333","title":"(%)","titleAngle":0,"titleX":-10,"titleY":-12,"titleAlign":"center","titleBaseline":"bottom","titleFontWeight":"normal","titleFontSize":12.5,"titleColor":"#333333"}}}}
  ]},
  {"mark":{"type":"line","strokeWidth":2.5},"encoding":{
   "x":{"field":"m","type":"ordinal","sort":null},
   "y":{"field":"yoy","type":"quantitative","scale":{"domain":[-10,25],"nice":false,"zero":false},"axis":{"orient":"right","values":[-10,-5,0,5,10,15,20,25],"format":"d","grid":false,"ticks":false,"labelOverlap":false,"domainColor":"#B2A983","domainWidth":1.5,"labelPadding":11,"labelFontSize":13,"labelColor":"#333333","title":"(%)","titleAngle":0,"titleX":18,"titleY":-12,"titleAlign":"center","titleBaseline":"bottom","titleFontWeight":"normal","titleFontSize":12.5,"titleColor":"#333333"}},
   "color":{"datum":"전년동월대비(우)","type":"nominal"}
  }}
 ],"resolve":{"scale":{"y":"independent"}}},
 {"width":88,"height":1,"data":{"values":[{}]},"mark":{"type":"text","text":"","fontSize":0}},
 {"width":6,"height":204,"view":{"fill":"#F8C61C","stroke":null},"data":{"values":[{}]},"mark":{"type":"text","text":"","fontSize":0}}
]},

{"bounds":"flush","spacing":0,"hconcat":[
 {"width":6,"height":40,"view":{"fill":"#F8C61C","stroke":null},"data":{"values":[{}]},"mark":{"type":"text","text":"","fontSize":0}},
 {"width":61,"height":1,"data":{"values":[{}]},"mark":{"type":"text","text":"","fontSize":0}},
 {"width":381,"height":3,"data":{"values":[{"edge":"line"}]},"mark":{"type":"rule","color":"#B3B3B3","strokeWidth":1.5},"encoding":{"y":{"field":"edge","type":"nominal","scale":{"type":"point","domain":["line"]},"axis":null}},"title":{"text":"자료: KB국민은행","orient":"bottom","anchor":"start","frame":"group","fontSize":14,"fontWeight":"normal","color":"#222222","offset":6,"dx":3}},
 {"width":23,"height":1,"data":{"values":[{}]},"mark":{"type":"text","text":"","fontSize":0}},
 {"width":381,"height":3,"data":{"values":[{"edge":"line"}]},"mark":{"type":"rule","color":"#B3B3B3","strokeWidth":1.5},"encoding":{"y":{"field":"edge","type":"nominal","scale":{"type":"point","domain":["line"]},"axis":null}},"title":{"text":"자료: KB국민은행","orient":"bottom","anchor":"start","frame":"group","fontSize":14,"fontWeight":"normal","color":"#222222","offset":6,"dx":3}},
 {"width":35,"height":1,"data":{"values":[{}]},"mark":{"type":"text","text":"","fontSize":0}},
 {"width":6,"height":40,"view":{"fill":"#F8C61C","stroke":null},"data":{"values":[{}]},"mark":{"type":"text","text":"","fontSize":0}}
]},

{"bounds":"flush","spacing":0,"hconcat":[
 {"width":6,"height":106,"view":{"fill":"#F8C61C","stroke":null},"data":{"values":[{}]},"mark":{"type":"text","text":"","fontSize":0}},
 {"width":61,"height":106,"data":{"values":[{}]},"mark":{"type":"text","text":"","fontSize":0},"title":{"text":"가격지수 상승, 서남권(0.00%)은 보합","anchor":"start","frame":"group","fontSize":19,"fontWeight":"normal","color":"#111111","offset":-93,"dx":79}},
 {"width":790,"height":106,"data":{"values":[{}]},"mark":{"type":"text","text":"","fontSize":0},"title":{"text":"○ (서울 권역별) 동남권(0.15%), 도심권(0.09%), 서북권(0.04%), 동북권(0.01%) 전월대비 매매","anchor":"start","frame":"group","fontSize":19,"fontWeight":"normal","color":"#111111","offset":-60,"dx":-8}},
 {"width":30,"height":1,"data":{"values":[{}]},"mark":{"type":"text","text":"","fontSize":0}},
 {"width":6,"height":106,"view":{"fill":"#F8C61C","stroke":null},"data":{"values":[{}]},"mark":{"type":"text","text":"","fontSize":0}}
]},

{"bounds":"flush","spacing":0,"hconcat":[
 {"width":6,"height":297,"view":{"fill":"#F8C61C","stroke":null},"data":{"values":[{}]},"mark":{"type":"text","text":"","fontSize":0}},
 {"width":61,"height":1,"data":{"values":[{}]},"mark":{"type":"text","text":"","fontSize":0}},
 {"width":97,"height":223,"layer":[
  {"data":{"name":"rows2"},"mark":{"type":"rule","color":"#BDBDBD","strokeWidth":1},"encoding":{"y":{"field":"row","type":"nominal","bandPosition":0,"scale":{"type":"band","domain":["h1","h2","도심권","동남권","동북권","서남권","서북권"],"paddingInner":0,"paddingOuter":0.074},"axis":null}}},
  {"data":{"values":[{}]},"mark":{"type":"rule","color":"#BDBDBD","strokeWidth":1},"encoding":{"x":{"value":"width"}}},
  {"data":{"values":[{"row":"h2","label":"구분"}]},"mark":{"type":"text","fontSize":17,"color":"#222222"},"encoding":{"y":{"field":"row","type":"nominal","bandPosition":0,"scale":{"type":"band","domain":["h1","h2","도심권","동남권","동북권","서남권","서북권"],"paddingInner":0,"paddingOuter":0.074},"axis":null},"text":{"field":"label"}}},
  {"data":{"name":"rows2"},"mark":{"type":"text","fontSize":17,"color":"#222222"},"encoding":{"y":{"field":"row","type":"nominal","scale":{"type":"band","domain":["h1","h2","도심권","동남권","동북권","서남권","서북권"],"paddingInner":0,"paddingOuter":0.074},"axis":null},"text":{"field":"row"}}},
  {"data":{"values":[{"row":"h1"}]},"mark":{"type":"rule","color":"#222222","strokeWidth":2.2},"encoding":{"y":{"field":"row","type":"nominal","bandPosition":0,"scale":{"type":"band","domain":["h1","h2","도심권","동남권","동북권","서남권","서북권"],"paddingInner":0,"paddingOuter":0.074},"axis":null}}},
  {"data":{"values":[{"row":"서북권"}]},"mark":{"type":"rule","color":"#222222","strokeWidth":2.2},"encoding":{"y":{"field":"row","type":"nominal","bandPosition":1,"scale":{"type":"band","domain":["h1","h2","도심권","동남권","동북권","서남권","서북권"],"paddingInner":0,"paddingOuter":0.074},"axis":null}}}
 ]},
 {"width":512,"height":223,"layer":[
  {"data":{"name":"t2m"},"transform":[{"filter":"datum.col === \"'24.11\""}],"mark":{"type":"rect","color":"#EEEBE1"},"encoding":{"x":{"field":"col","type":"nominal","scale":{"type":"band","domain":["'24.04","'24.05","'24.06","'24.07","'24.08","'24.09","'24.10","'24.11"],"paddingInner":0,"paddingOuter":0},"axis":null},"y":{"field":"row","type":"nominal","scale":{"type":"band","domain":["h1","h2","도심권","동남권","동북권","서남권","서북권"],"paddingInner":0,"paddingOuter":0.074},"axis":null}}},
  {"data":{"name":"hdrM"},"transform":[{"filter":"datum.col === \"'24.11\""}],"mark":{"type":"rect","color":"#EEEBE1"},"encoding":{"x":{"field":"col","type":"nominal","scale":{"type":"band","domain":["'24.04","'24.05","'24.06","'24.07","'24.08","'24.09","'24.10","'24.11"],"paddingInner":0,"paddingOuter":0},"axis":null},"y":{"field":"row","type":"nominal","scale":{"type":"band","domain":["h1","h2","도심권","동남권","동북권","서남권","서북권"],"paddingInner":0,"paddingOuter":0.074},"axis":null}}},
  {"data":{"name":"t2m"},"mark":{"type":"rect","filled":false,"color":"#BDBDBD","strokeWidth":1},"encoding":{"x":{"field":"col","type":"nominal","scale":{"type":"band","domain":["'24.04","'24.05","'24.06","'24.07","'24.08","'24.09","'24.10","'24.11"],"paddingInner":0,"paddingOuter":0},"axis":null},"y":{"field":"row","type":"nominal","scale":{"type":"band","domain":["h1","h2","도심권","동남권","동북권","서남권","서북권"],"paddingInner":0,"paddingOuter":0.074},"axis":null}}},
  {"data":{"name":"hdrM"},"mark":{"type":"rect","filled":false,"color":"#BDBDBD","strokeWidth":1},"encoding":{"x":{"field":"col","type":"nominal","scale":{"type":"band","domain":["'24.04","'24.05","'24.06","'24.07","'24.08","'24.09","'24.10","'24.11"],"paddingInner":0,"paddingOuter":0},"axis":null},"y":{"field":"row","type":"nominal","scale":{"type":"band","domain":["h1","h2","도심권","동남권","동북권","서남권","서북권"],"paddingInner":0,"paddingOuter":0.074},"axis":null}}},
  {"data":{"values":[{"row":"h1","label":"매매가격지수 변동률(전월대비)"}]},"mark":{"type":"text","fontSize":15,"color":"#222222"},"encoding":{"y":{"field":"row","type":"nominal","scale":{"type":"band","domain":["h1","h2","도심권","동남권","동북권","서남권","서북권"],"paddingInner":0,"paddingOuter":0.074},"axis":null},"text":{"field":"label"}}},
  {"data":{"name":"hdrM"},"mark":{"type":"text","fontSize":15,"color":"#222222"},"encoding":{"x":{"field":"col","type":"nominal","scale":{"type":"band","domain":["'24.04","'24.05","'24.06","'24.07","'24.08","'24.09","'24.10","'24.11"],"paddingInner":0,"paddingOuter":0},"axis":null},"y":{"field":"row","type":"nominal","scale":{"type":"band","domain":["h1","h2","도심권","동남권","동북권","서남권","서북권"],"paddingInner":0,"paddingOuter":0.074},"axis":null},"text":{"field":"col"}}},
  {"data":{"name":"t2m"},"mark":{"type":"text","fontSize":15,"color":"#222222"},"encoding":{"x":{"field":"col","type":"nominal","scale":{"type":"band","domain":["'24.04","'24.05","'24.06","'24.07","'24.08","'24.09","'24.10","'24.11"],"paddingInner":0,"paddingOuter":0},"axis":null},"y":{"field":"row","type":"nominal","scale":{"type":"band","domain":["h1","h2","도심권","동남권","동북권","서남권","서북권"],"paddingInner":0,"paddingOuter":0.074},"axis":null},"text":{"field":"v","type":"quantitative","format":".2f"}}},
  {"data":{"values":[{"row":"h1"}]},"mark":{"type":"rule","color":"#222222","strokeWidth":2.2},"encoding":{"y":{"field":"row","type":"nominal","bandPosition":0,"scale":{"type":"band","domain":["h1","h2","도심권","동남권","동북권","서남권","서북권"],"paddingInner":0,"paddingOuter":0.074},"axis":null}}},
  {"data":{"values":[{"row":"서북권"}]},"mark":{"type":"rule","color":"#222222","strokeWidth":2.2},"encoding":{"y":{"field":"row","type":"nominal","bandPosition":1,"scale":{"type":"band","domain":["h1","h2","도심권","동남권","동북권","서남권","서북권"],"paddingInner":0,"paddingOuter":0.074},"axis":null}}}
 ]},
 {"width":181,"height":223,"title":{"text":"2","orient":"bottom","anchor":"end","frame":"group","fontSize":16,"fontWeight":"normal","color":"#888888","offset":44,"dx":-15},"layer":[
  {"data":{"values":[{"col":"전년말비"},{"col":"전년동월비"}]},"mark":{"type":"rule","color":"#BDBDBD","strokeWidth":1},"encoding":{"x":{"field":"col","type":"nominal","bandPosition":0,"scale":{"type":"band","domain":["전년말비","전년동월비"],"paddingInner":0,"paddingOuter":0},"axis":null}}},
  {"data":{"values":[{"row":"h2"},{"row":"도심권"},{"row":"동남권"},{"row":"동북권"},{"row":"서남권"},{"row":"서북권"}]},"mark":{"type":"rule","color":"#BDBDBD","strokeWidth":1},"encoding":{"y":{"field":"row","type":"nominal","bandPosition":0,"scale":{"type":"band","domain":["h1","h2","도심권","동남권","동북권","서남권","서북권"],"paddingInner":0,"paddingOuter":0.074},"axis":null}}},
  {"data":{"name":"hdrC"},"mark":{"type":"text","fontSize":15.5,"color":"#222222"},"encoding":{"x":{"field":"col","type":"nominal","scale":{"type":"band","domain":["전년말비","전년동월비"],"paddingInner":0,"paddingOuter":0},"axis":null},"y":{"field":"row","type":"nominal","scale":{"type":"band","domain":["h1","h2","도심권","동남권","동북권","서남권","서북권"],"paddingInner":0,"paddingOuter":0.074},"axis":null},"text":{"field":"t"}}},
  {"data":{"name":"t2c"},"mark":{"type":"text","fontSize":15,"color":"#222222"},"encoding":{"x":{"field":"col","type":"nominal","scale":{"type":"band","domain":["전년말비","전년동월비"],"paddingInner":0,"paddingOuter":0},"axis":null},"y":{"field":"row","type":"nominal","scale":{"type":"band","domain":["h1","h2","도심권","동남권","동북권","서남권","서북권"],"paddingInner":0,"paddingOuter":0.074},"axis":null},"text":{"field":"v","type":"quantitative","format":".2f"}}},
  {"data":{"values":[{"row":"h1"}]},"mark":{"type":"rule","color":"#222222","strokeWidth":2.2},"encoding":{"y":{"field":"row","type":"nominal","bandPosition":0,"scale":{"type":"band","domain":["h1","h2","도심권","동남권","동북권","서남권","서북권"],"paddingInner":0,"paddingOuter":0.074},"axis":null}}},
  {"data":{"values":[{"row":"서북권"}]},"mark":{"type":"rule","color":"#222222","strokeWidth":2.2},"encoding":{"y":{"field":"row","type":"nominal","bandPosition":1,"scale":{"type":"band","domain":["h1","h2","도심권","동남권","동북권","서남권","서북권"],"paddingInner":0,"paddingOuter":0.074},"axis":null}}}
 ]},
 {"width":30,"height":1,"data":{"values":[{}]},"mark":{"type":"text","text":"","fontSize":0}},
 {"width":6,"height":297,"view":{"fill":"#F8C61C","stroke":null},"data":{"values":[{}]},"mark":{"type":"text","text":"","fontSize":0}}
]},

{"width":893,"height":6,"view":{"fill":"#F8C61C","stroke":null},"data":{"values":[{}]},"mark":{"type":"text","text":"","fontSize":0}}
]
}
